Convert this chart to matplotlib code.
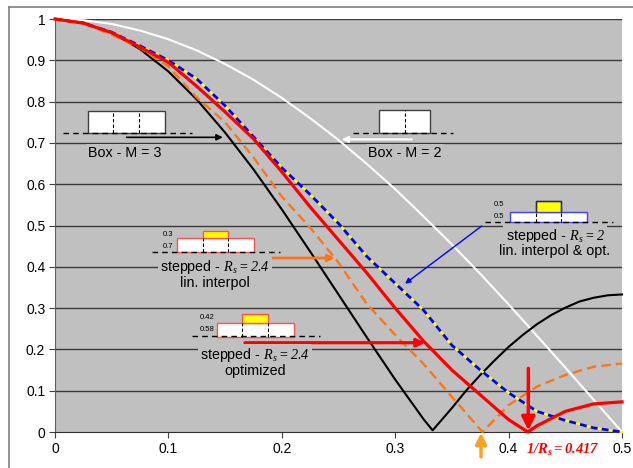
import matplotlib
matplotlib.use("Agg")
import matplotlib.pyplot as plt
from matplotlib.patches import Rectangle
from matplotlib.lines import Line2D

plt.rcParams['font.family'] = ['Liberation Sans', 'DejaVu Sans']
plt.rcParams['mathtext.fontset'] = 'custom'
plt.rcParams['mathtext.rm'] = 'Liberation Serif:italic'
plt.rcParams['mathtext.it'] = 'Liberation Serif:italic'
plt.rcParams['mathtext.bf'] = 'Liberation Serif:italic:bold'

# normalised frequency
freq = [0, 0.025, 0.05, 0.075, 0.1, 0.125, 0.15, 0.175, 0.2, 0.225, 0.25,
        0.275, 0.3, 0.325, 0.35, 0.375, 0.4, 0.425, 0.45, 0.475, 0.5]

# box M = 2
box2 = [1, 0.997, 0.988, 0.972, 0.951, 0.924, 0.891, 0.853, 0.809, 0.760, 0.707,
        0.649, 0.588, 0.522, 0.454, 0.383, 0.309, 0.233, 0.156, 0.078, 0.0]

# box M = 3 (zero near 1/3)
f_box3 = [0, 0.025, 0.05, 0.075, 0.1, 0.125, 0.15, 0.175, 0.2, 0.225, 0.25,
          0.275, 0.3, 0.325, 0.333, 0.35, 0.3625, 0.375, 0.3875, 0.4, 0.4125,
          0.425, 0.4375, 0.45, 0.4625, 0.475, 0.4875, 0.5]
box3 = [1, 0.991, 0.967, 0.927, 0.873, 0.805, 0.725, 0.636, 0.539, 0.437, 0.333,
        0.229, 0.127, 0.031, 0.004, 0.058, 0.100, 0.138, 0.173, 0.206, 0.235,
        0.261, 0.283, 0.301, 0.316, 0.325, 0.331, 0.333]

# stepped Rs = 2.4, linear interpolation (zero near 0.377)
f_lin = [0, 0.025, 0.05, 0.075, 0.1, 0.125, 0.15, 0.175, 0.2, 0.225, 0.25,
         0.275, 0.3, 0.325, 0.35, 0.377, 0.4, 0.425, 0.45, 0.475, 0.5]
lin24 = [1, 0.99, 0.962, 0.93, 0.885, 0.81, 0.75, 0.665, 0.57, 0.495, 0.41,
         0.31, 0.235, 0.165, 0.085, 0.0, 0.065, 0.11, 0.138, 0.158, 0.166]

# stepped Rs = 2.4, optimized (zero at 1/Rs = 0.417)
f_opt = [0, 0.025, 0.05, 0.075, 0.1, 0.125, 0.15, 0.175, 0.2, 0.225, 0.25,
         0.275, 0.3, 0.325, 0.35, 0.375, 0.4, 0.417, 0.425, 0.45, 0.475, 0.5]
opt24 = [1, 0.99, 0.967, 0.932, 0.895, 0.837, 0.775, 0.71, 0.63, 0.545, 0.465,
         0.385, 0.30, 0.22, 0.15, 0.09, 0.03, 0.0, 0.015, 0.05, 0.068, 0.073]

# stepped Rs = 2, lin. interpol & opt.
step2 = [1, 0.99, 0.968, 0.935, 0.9, 0.855, 0.79, 0.715, 0.64, 0.575, 0.505,
         0.425, 0.36, 0.295, 0.21, 0.15, 0.095, 0.05, 0.028, 0.01, 0.0]

xticks = [0, 0.1, 0.2, 0.3, 0.4, 0.5]
yticks = [0, 0.1, 0.2, 0.3, 0.4, 0.5, 0.6, 0.7, 0.8, 0.9, 1]

bg = '#c0c0c0'
orange = '#ff7415'

fig = plt.figure(figsize=(6.33, 4.68), dpi=100)
ax = fig.add_axes([55/633, 36/468, 567/633, 413/468])
ax.set_facecolor(bg)
ax.set_xlim(0, 0.5)
ax.set_ylim(0, 1)
ax.set_xticks(xticks)
ax.set_xticklabels(['0', '0.1', '0.2', '0.3', '0.4', '0.5'])
ax.set_yticks(yticks)
ax.set_yticklabels(['0', '0.1', '0.2', '0.3', '0.4', '0.5', '0.6', '0.7', '0.8', '0.9', '1'])
ax.tick_params(labelsize=10, length=4, color='#404040', pad=3)
for y in yticks[1:]:
    ax.axhline(y, color='#3a3a3a', lw=1, zorder=1)
for s in ['top', 'right']:
    ax.spines[s].set_visible(False)
ax.spines['left'].set_color('#606060')
ax.spines['bottom'].set_color('#303030')

ax.plot(freq, box2, color='white', lw=1.5, zorder=3, clip_on=False)
ax.plot(f_box3, box3, color='black', lw=1.5, zorder=4, clip_on=False)
ax.plot(f_lin, lin24, color=orange, lw=1.7, dashes=(4, 2.2), zorder=4, clip_on=False)
ax.plot(freq, step2, color='#ffff00', lw=1.8, zorder=4, clip_on=False)
ax.plot(freq, step2, color='#0000ff', lw=2.0, dashes=(2.5, 1.5), zorder=4, clip_on=False)
ax.plot(f_opt, opt24, color='#ff0000', lw=2.3, zorder=5, clip_on=False)


def icon(x0, x1, y0, y1, edge, top=None, divs=()):
    ax.add_patch(Rectangle((x0, y0), x1 - x0, y1 - y0, facecolor='white',
                           edgecolor=edge, lw=1, zorder=6))
    if top is not None:
        ax.add_patch(Rectangle((top[0], y1), top[1] - top[0], top[2] - y1,
                               facecolor='#ffff00', edgecolor=edge, lw=1, zorder=6))
    for d in divs:
        ax.plot([d, d], [y0, y1], color='black', lw=0.8, ls=(0, (3, 2)), zorder=7)


def baseline(x0, x1, y):
    ax.plot([x0, x1], [y, y], color='black', lw=1, ls=(0, (4, 3)), zorder=6)


def arrow(start, end, color, lw, scale=10):
    ax.annotate('', xy=end, xytext=start, annotation_clip=False,
                arrowprops=dict(arrowstyle='-|>', color=color, lw=lw,
                                mutation_scale=scale, shrinkA=0, shrinkB=0),
                zorder=8)


def label(x, y, s, size=10):
    ax.text(x, y, s, ha='center', va='center', fontsize=size, zorder=9,
            bbox=dict(facecolor=bg, edgecolor='none', pad=1.5))


# Box M = 3
icon(0.0293, 0.097, 0.725, 0.778, '#404040', divs=(0.0514, 0.0743))
baseline(0.0073, 0.1205, 0.725)
arrow((0.0632, 0.7135), (0.148, 0.7135), 'black', 1.2, 9)
label(0.0617, 0.675, 'Box - M = 3', 10.3)

# Box M = 2
icon(0.2857, 0.3307, 0.725, 0.78, '#404040', divs=(0.3086,))
baseline(0.263, 0.351, 0.725)
arrow((0.3146, 0.7085), (0.2528, 0.7085), 'white', 1.5, 9)
label(0.3086, 0.675, 'Box - M = 2', 10.3)

# stepped Rs = 2.4, lin. interpol
icon(0.1073, 0.1757, 0.4358, 0.4697, '#ff5050', top=(0.1302, 0.1528, 0.4859),
     divs=(0.1302, 0.1528))
baseline(0.0853, 0.1984, 0.4358)
ax.text(0.1, 0.4778, '0.3', fontsize=5.5, ha='center', va='center', zorder=9)
ax.text(0.1, 0.4497, '0.7', fontsize=5.5, ha='center', va='center', zorder=9)
arrow((0.1367, 0.4213), (0.2469, 0.4213), orange, 2, 10)
label(0.141, 0.4, r'stepped - $R_s = 2.4$', 10.3)
label(0.141, 0.3615, 'lin. interpol', 10.3)

# stepped Rs = 2.4, optimized
icon(0.1426, 0.2108, 0.2308, 0.2631, '#ff5050', top=(0.1652, 0.1881, 0.2849),
     divs=(0.1652, 0.1881))
baseline(0.1205, 0.2337, 0.2324)
ax.text(0.134, 0.2777, '0.42', fontsize=5.5, ha='center', va='center', zorder=9)
ax.text(0.134, 0.2487, '0.58', fontsize=5.5, ha='center', va='center', zorder=9)
arrow((0.1675, 0.2162), (0.3263, 0.2162), '#ff0000', 2.3, 12)
label(0.1764, 0.1864, r'stepped - $R_s = 2.4$', 10.3)
label(0.1764, 0.1484, 'optimized', 10.3)

# stepped Rs = 2
icon(0.4012, 0.4689, 0.5077, 0.5334, '#4040ff', top=(0.4239, 0.4462, 0.5601),
     divs=(0.4239, 0.4462))
ax.plot([0.4239, 0.4239, 0.4462, 0.4462], [0.5334, 0.5601, 0.5601, 0.5334],
        color='#303030', lw=1, zorder=7)
baseline(0.3792, 0.4923, 0.5077)
ax.text(0.3918, 0.5513, '0.5', fontsize=5.5, ha='center', va='center', zorder=9)
ax.text(0.3918, 0.5230, '0.5', fontsize=5.5, ha='center', va='center', zorder=9)
arrow((0.3763, 0.4988), (0.3087, 0.3591), '#0000ff', 1, 8)
label(0.4409, 0.4753, r'stepped - $R_s = 2$', 10.3)
label(0.4409, 0.4383, 'lin. interpol & opt.', 10.3)

# zero markers
arrow((0.4174, 0.154), (0.4174, 0.004), '#ff0000', 2.5, 20)
arrow((0.3757, -0.06), (0.3757, -0.002), '#ffa020', 2.5, 16)
ax.text(0.448, -0.044, r'$\mathbf{1/R_s = 0.417}$', color='#ff0000', fontsize=10.5,
        ha='center', va='center', zorder=9)

# outer frame
fig.add_artist(Line2D([9/633, 9/633], [0, 1 - 7/468], transform=fig.transFigure,
                      color='#808080', lw=1.2))
fig.add_artist(Line2D([9/633, 1], [1 - 7/468, 1 - 7/468], transform=fig.transFigure,
                      color='#808080', lw=1.2))

fig.savefig('out.png', dpi=100)
